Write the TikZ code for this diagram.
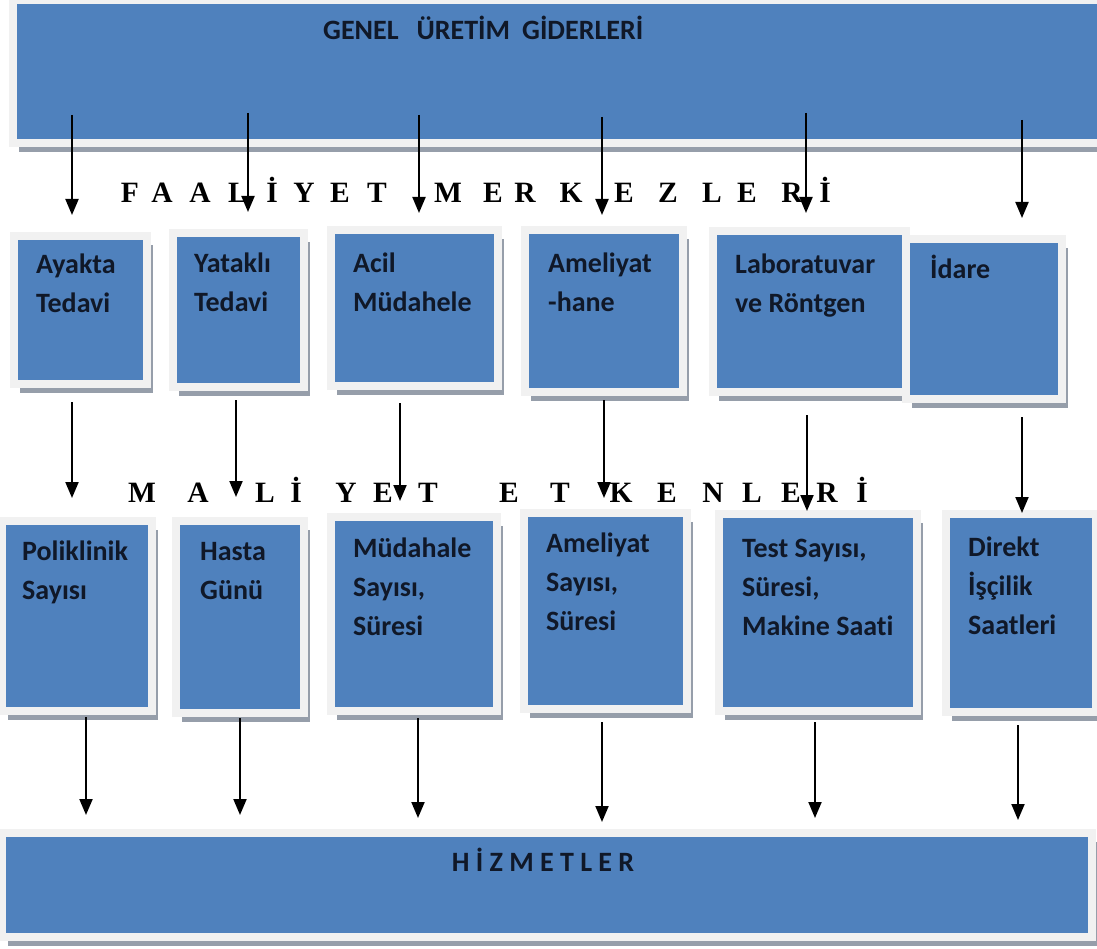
\documentclass[tikz,border=0pt]{standalone}
\usepackage{fontspec}
\setmainfont{Carlito}[Ligatures=NoCommon]
\newfontfamily\timesfont{Liberation Serif}
\usetikzlibrary{arrows.meta,shadows}

\definecolor{boxblue}{RGB}{79,129,189}
\definecolor{framegray}{RGB}{241,241,241}
\definecolor{shadowgray}{RGB}{150,158,170}
\definecolor{navy}{RGB}{16,24,40}
\newcommand\lblstrut{\rule{0pt}{24pt}}

\begin{document}
\begin{tikzpicture}[x=1pt,y=-1pt,
  box/.style={anchor=north west,fill=boxblue,draw=framegray,line width=8pt,inner sep=0pt,outer sep=0pt,
    drop shadow={shadow xshift=6pt,shadow yshift=-9pt,fill=shadowgray,opacity=1}},
  lbl/.style={anchor=north west,align=left,inner sep=0pt,text=navy,font=\fontsize{28}{39}\selectfont\bfseries},
  sp/.style={anchor=base,inner sep=0pt,font=\timesfont\fontsize{29.5}{30}\selectfont\bfseries},
  arr/.style={line width=2pt,-{Triangle[width=13pt,length=16pt]}}]
\fill[white] (0,0) rectangle (1097,949);
\useasboundingbox (0,0) rectangle (1097,949);
\clip (0,0) rectangle (1097,949);

% top and bottom bars
\node[box,minimum width=1101pt,minimum height=143pt] (gug) at (13,0) {};
\node[box,minimum width=1090pt,minimum height=104pt] (hiz) at (2,833) {};

% faaliyet merkezleri
\node[box,minimum width=133pt,minimum height=148pt] (ayakta) at (14,236) {};
\node[box,minimum width=131pt,minimum height=154pt] (yatakli) at (173,233) {};
\node[box,minimum width=167pt,minimum height=156pt] (acil) at (331,230) {};
\node[box,minimum width=158pt,minimum height=162pt] (ameliyathane) at (525,230) {};
\node[box,minimum width=193pt,minimum height=161pt] (lab) at (713,231) {};
\node[box,minimum width=156pt,minimum height=160pt] (idare) at (906,239) {};

% maliyet etkenleri
\node[box,minimum width=150pt,minimum height=190pt] (poliklinik) at (2,521) {};
\node[box,minimum width=128pt,minimum height=192pt] (hastagunu) at (176,521) {};
\node[box,minimum width=166pt,minimum height=194pt] (mudahale) at (331,517) {};
\node[box,minimum width=163pt,minimum height=196pt] (ameliyat) at (524,513) {};
\node[box,minimum width=198pt,minimum height=197pt] (test) at (719,514) {};
\node[box,minimum width=150pt,minimum height=198pt] (iscilik) at (946,514) {};

% texts
\node[lbl,anchor=base west] (gugtxt) at (323,40) {GENEL\hspace{18pt}ÜRETİM\hspace{12pt}GİDERLERİ};
\node[lbl,anchor=base] (hiztxt) at (543,871) {H İ Z M E T L E R};

\node[lbl] (ayakta-t) at (36,249) {\lblstrut Ayakta\\Tedavi};
\node[lbl] (yatakli-t) at (194,248) {\lblstrut Yataklı\\Tedavi};
\node[lbl] (acil-t) at (353,248) {\lblstrut Acil\\Müdahele};
\node[lbl] (ameliyathane-t) at (548,248) {\lblstrut Ameliyat\\-hane};
\node[lbl] (lab-t) at (735,249) {\lblstrut Laboratuvar\\ve Röntgen};
\node[lbl] (idare-t) at (930,254) {\lblstrut İdare};

\node[lbl] (poliklinik-t) at (22,536) {\lblstrut Poliklinik\\Sayısı};
\node[lbl] (hastagunu-t) at (200,536) {\lblstrut Hasta\\Günü};
\node[lbl] (mudahale-t) at (353,533) {\lblstrut Müdahale\\Sayısı,\\Süresi};
\node[lbl] (ameliyat-t) at (546,528) {\lblstrut Ameliyat\\Sayısı,\\Süresi};
\node[lbl] (test-t) at (742,533) {\lblstrut Test Sayısı,\\Süresi,\\Makine Saati};
\node[lbl] (iscilik-t) at (968,532) {\lblstrut Direkt\\İşçilik\\Saatleri};

% spaced headings
\foreach \ch/\x in {F/130,A/162,A/200,L/238,İ/272,Y/304,E/340,T/377,M/448,E/493,R/525,K/571,E/624,Z/668,L/712,E/747,R/792,İ/825}
  \node[sp] (fa\x) at (\x,203) {\ch};
\foreach \ch/\x in {M/142,A/198,L/265,İ/296,Y/346,E/383,T/428,E/509,T/560,K/621,E/667,N/713,L/752,E/791,R/827,İ/862}
  \node[sp] (ma\x) at (\x,502) {\ch};

% arrows
\foreach \n/\dx/\s/\e in {ayakta/-8.5/28/21,yatakli/9.5/30/21,acil/4.5/28/17,ameliyathane/-2/26/15,lab/-3.5/30/18,idare/38/23/21}
  \draw[arr] ([xshift=\dx pt,yshift=\s pt]gug.south -| \n.north) -- ([xshift=\dx pt,yshift=\e pt]\n.north);
\foreach \f/\m/\dx/\s/\e in {ayakta/poliklinik/-8.5/18/23,yatakli/hastagunu/-2.5/13/24,acil/mudahale/-14.5/17/16,ameliyathane/ameliyat/0/8/15,lab/test/-2.5/23/3,idare/iscilik/38/18/1}
  \draw[arr] ([xshift=\dx pt,yshift=-\s pt]\f.south) -- ([xshift=\dx pt,yshift=\e pt]\f.south |- \m.north);
\foreach \m/\dx/\s/\e in {poliklinik/9/6/18,hastagunu/0/5/18,mudahale/4/7/15,ameliyat/-3.5/13/11,test/-3/11/15,iscilik/-3/13/13}
  \draw[arr] ([xshift=\dx pt,yshift=-\s pt]\m.south) -- ([xshift=\dx pt,yshift=\e pt]\m.south |- hiz.north);
\end{tikzpicture}
\end{document}
